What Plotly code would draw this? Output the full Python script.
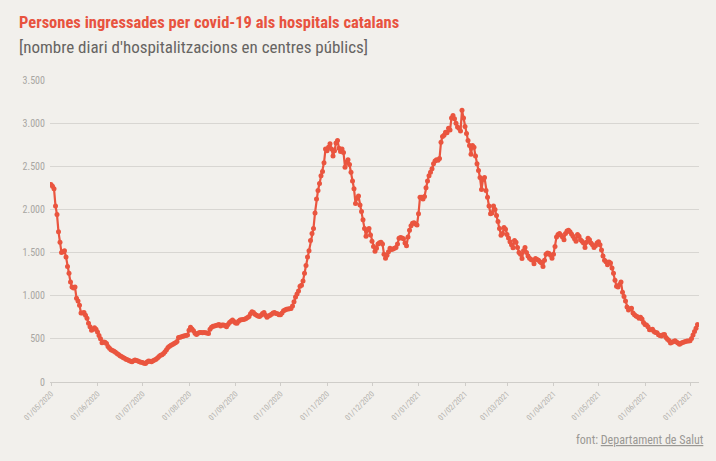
import plotly.graph_objects as go
import pandas as pd

# ingressos diaris llegits del gràfic, mes a mes (01/05/2020 -> 06/07/2021)
maig_2020 = [2290, 2270, 2240, 2040, 1940, 1740, 1620, 1500, 1510, 1520,
             1450, 1340, 1260, 1160, 1100, 1090, 1100, 970, 940, 890,
             800, 800, 805, 775, 740, 680, 640, 600, 610, 630, 610]
juny_2020 = [580, 540, 500, 455, 465, 460, 445, 410, 390, 375,
             365, 355, 345, 330, 320, 305, 295, 285, 275, 265,
             258, 250, 240, 235, 245, 255, 250, 243, 235, 230]
juliol_2020 = [225, 218, 215, 232, 243, 240, 235, 245, 255, 265,
               278, 295, 310, 315, 330, 350, 375, 400, 415, 425,
               435, 445, 455, 470, 515, 520, 525, 530, 535, 540, 545]
agost_2020 = [600, 635, 615, 595, 565, 550, 565, 575, 575, 570,
              575, 572, 568, 562, 610, 635, 645, 650, 655, 660,
              665, 650, 660, 662, 655, 640, 665, 690, 705, 718, 700]
setembre_2020 = [685, 680, 705, 718, 720, 725, 728, 735, 748, 760,
                 790, 815, 805, 785, 775, 765, 758, 775, 795, 805,
                 775, 750, 765, 775, 785, 800, 805, 795, 790, 778]
octubre_2020 = [780, 800, 825, 835, 842, 846, 850, 852, 880, 930,
                985, 1020, 1055, 1110, 1120, 1170, 1260, 1350, 1450, 1520,
                1640, 1720, 1780, 1960, 2120, 2220, 2300, 2390, 2440, 2540, 2700]
novembre_2020 = [2680, 2720, 2760, 2700, 2620, 2680, 2770, 2800, 2710, 2670,
                 2700, 2660, 2490, 2550, 2575, 2520, 2430, 2330, 2240, 2070,
                 2130, 2155, 2050, 1975, 1880, 1780, 1690, 1760, 1780, 1705]
desembre_2020 = [1630, 1570, 1515, 1550, 1600, 1615, 1620, 1600, 1480, 1435,
                 1470, 1510, 1550, 1535, 1540, 1550, 1560, 1600, 1665, 1675,
                 1670, 1660, 1610, 1580, 1680, 1760, 1810, 1840, 1845, 1830, 1820]
gener_2021 = [1950, 2140, 2140, 2120, 2150, 2250, 2330, 2390, 2430, 2470,
              2530, 2560, 2575, 2570, 2590, 2780, 2845, 2860, 2895, 2890,
              2940, 2920, 3060, 3090, 3050, 3000, 2955, 2940, 2910, 3150, 3060]
febrer_2021 = [2960, 2880, 2800, 2740, 2640, 2740, 2720, 2620, 2530, 2450,
               2370, 2230, 2350, 2370, 2220, 2140, 2040, 1950, 1960, 2040,
               2000, 1930, 1860, 1780, 1700, 1720, 1790, 1770]
marc_2021 = [1710, 1670, 1625, 1590, 1555, 1640, 1620, 1560, 1500, 1480,
             1430, 1520, 1560, 1500, 1460, 1435, 1420, 1410, 1370, 1430,
             1420, 1410, 1395, 1380, 1340, 1410, 1480, 1495, 1490, 1470, 1435]
abril_2021 = [1480, 1570, 1680, 1710, 1720, 1700, 1680, 1650, 1720, 1750,
              1760, 1740, 1715, 1690, 1660, 1630, 1710, 1690, 1650, 1630,
              1610, 1560, 1620, 1665, 1650, 1610, 1590, 1560, 1580, 1610]
maig_2021 = [1625, 1590, 1530, 1460, 1410, 1395, 1360, 1390, 1380, 1320,
             1260, 1180, 1110, 1100, 1130, 1160, 1040, 990, 940, 870,
             835, 850, 855, 800, 780, 765, 755, 740, 750, 730, 690]
juny_2021 = [665, 660, 640, 605, 605, 610, 585, 575, 570, 548,
             540, 533, 548, 550, 515, 495, 480, 452, 460, 468,
             478, 465, 452, 438, 450, 458, 465, 470, 475, 475]
juliol_2021 = [478, 505, 545, 585, 622, 665]

ingressos = (maig_2020 + juny_2020 + juliol_2020 + agost_2020 + setembre_2020
             + octubre_2020 + novembre_2020 + desembre_2020 + gener_2021
             + febrer_2021 + marc_2021 + abril_2021 + maig_2021 + juny_2021
             + juliol_2021)
dies = pd.date_range("2020-05-01", periods=len(ingressos), freq="D")

eix_y = [0, 500, 1000, 1500, 2000, 2500, 3000, 3500]

vermell = "#ea553f"
fons = "#f2f0ec"
gris = "#a8a6a2"
fonts = "Roboto Condensed, Liberation Sans Narrow, DejaVu Sans Condensed, Roboto, sans-serif"

fig = go.Figure()

fig.add_trace(go.Scatter(
    x=dies,
    y=ingressos,
    mode="lines+markers",
    line=dict(color=vermell, width=2.2),
    marker=dict(color=vermell, size=5),
    hovertemplate="%{x|%d/%m/%Y}: %{y}<extra></extra>",
))

fig.update_layout(
    width=716, height=461,
    margin=dict(l=50, r=17, t=80, b=79),
    paper_bgcolor=fons,
    plot_bgcolor=fons,
    separators=",.",
    showlegend=False,
    font=dict(family=fonts, color=gris),
    xaxis=dict(
        range=["2020-04-30 08:00", "2021-07-07"],
        dtick="M1", tick0="2020-05-01",
        tickformat="%d/%m/%Y", tickangle=-45,
        tickfont=dict(size=8, color="#b4b2ae"),
        showgrid=False, showline=True, linecolor="#cfcdc9", linewidth=1,
        ticks="outside", ticklen=3, tickcolor="#cfcdc9",
        zeroline=False, automargin=False,
    ),
    yaxis=dict(
        range=[0, 3500], tickvals=eix_y, tickformat=",d",
        tickfont=dict(size=10, color=gris),
        showgrid=True, gridcolor="#d8d6d2", gridwidth=1,
        zeroline=False, showline=False, ticks="", ticklabelstandoff=4,
        automargin=False,
    ),
)

fig.add_annotation(
    text="<b>Persones ingressades per covid-19 als hospitals catalans</b>",
    xref="paper", yref="paper", x=-0.051, y=1.192,
    xanchor="left", yanchor="middle", showarrow=False,
    font=dict(family=fonts, size=16.5, color="#e8533f"),
)
fig.add_annotation(
    text="[nombre diari d'hospitalitzacions en centres públics]",
    xref="paper", yref="paper", x=-0.051, y=1.109,
    xanchor="left", yanchor="middle", showarrow=False,
    font=dict(family=fonts, size=17, color="#666462"),
)
fig.add_annotation(
    text="font: <span style='text-decoration:underline'>Departament de Salut</span>",
    xref="paper", yref="paper", x=1.011, y=-0.192,
    xanchor="right", yanchor="middle", showarrow=False,
    font=dict(family=fonts, size=12, color="#9a9894"),
)

# sense el marge per defecte del body, perquè el gràfic ocupi tota la finestra
fig.write_html("out.html", config={"displayModeBar": False},
               post_script="document.body.style.margin='0px';")
